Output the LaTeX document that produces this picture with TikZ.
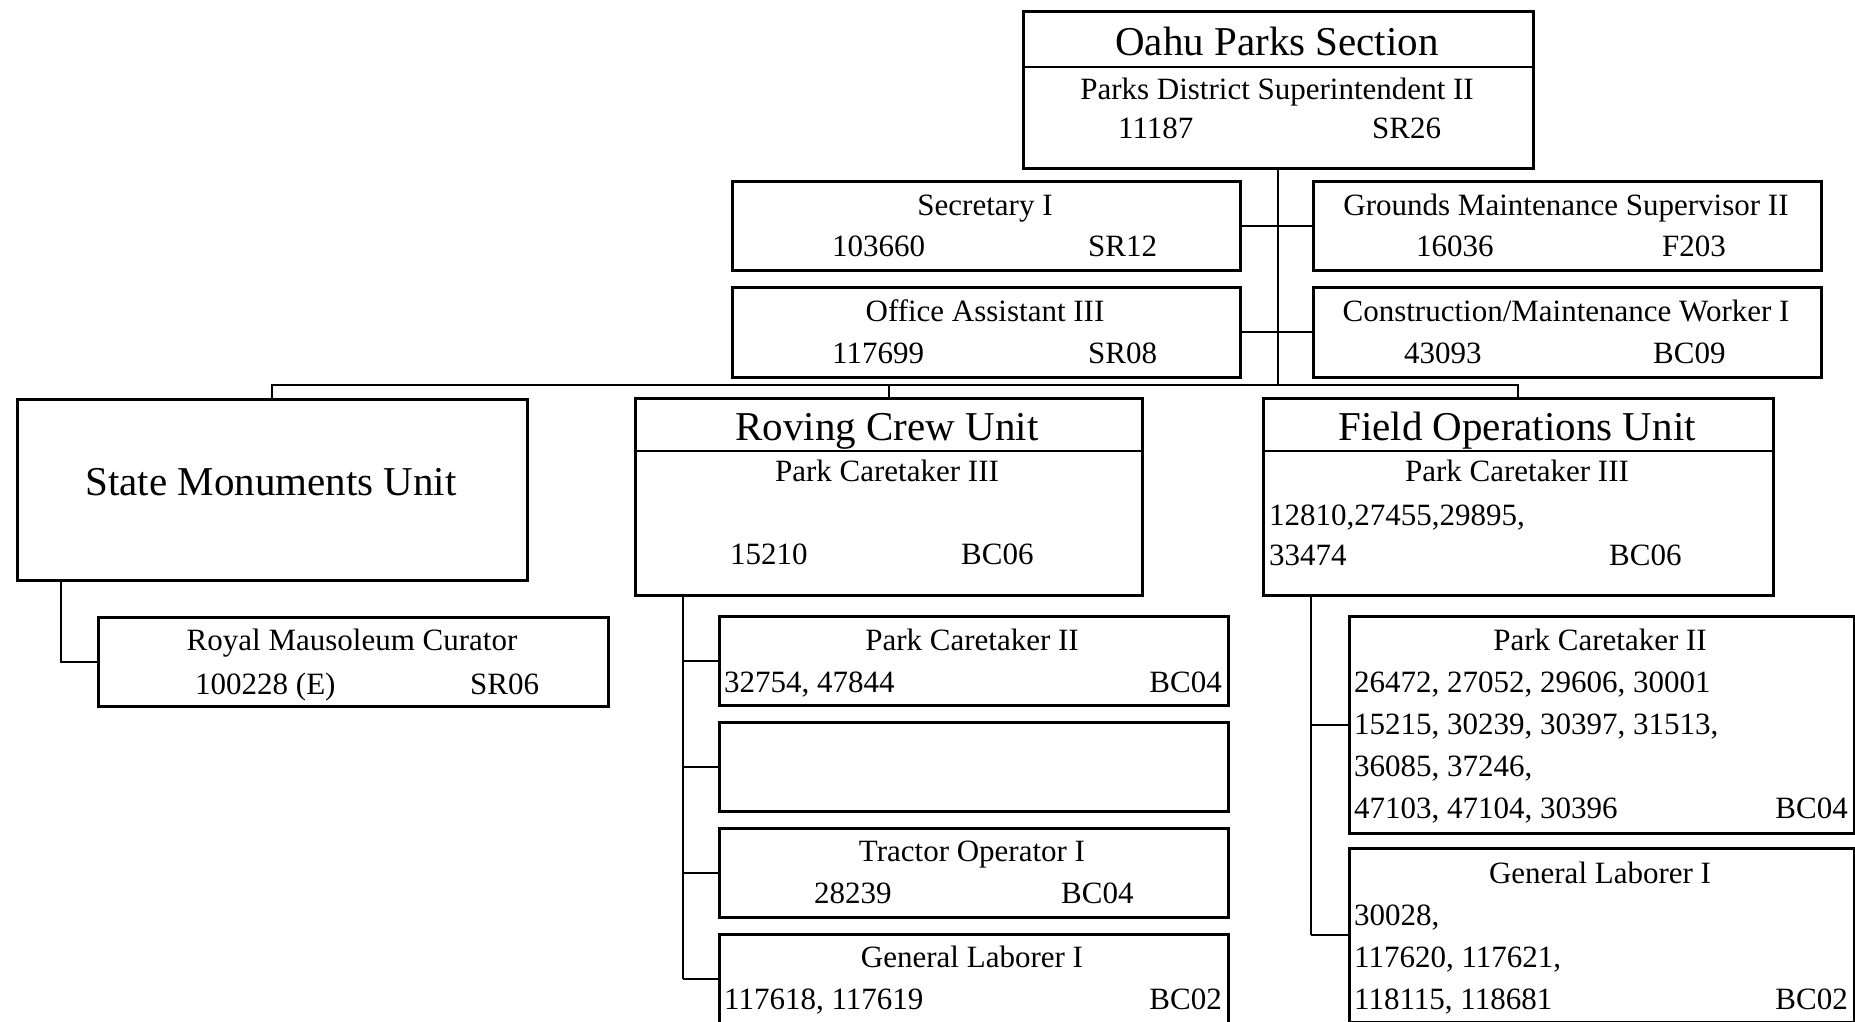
\documentclass[tikz,border=0pt]{standalone}
\usepackage{fontspec}
\setmainfont{Liberation Serif}
\usetikzlibrary{calc}

\tikzset{
  unitbox/.style={draw,line width=2.5pt,inner sep=0pt,anchor=north west,minimum width=508pt,minimum height=89pt},
  divline/.style={line width=1.3pt},
  conn/.style={line width=2.2pt},
  lbl/.style={inner sep=0pt,font=\fontsize{31}{38}\selectfont},
  ttl/.style={inner sep=0pt,font=\fontsize{41}{48}\selectfont},
}

\begin{document}
\begin{tikzpicture}[x=1pt,y=-1pt]
\useasboundingbox (0,0) rectangle (1855,1021);
% section head
\node[unitbox,minimum width=510pt,minimum height=157pt] (sect) at (1022,10) {};
\draw[divline] ([yshift=-57pt]sect.north west) -- ([yshift=-57pt]sect.north east);
\node[ttl,anchor=base] (sectT) at (1277,55) {Oahu Parks Section};
\node[lbl,anchor=base] (sectP) at (1277,99) {Parks District Superintendent II};
\node[lbl,anchor=base west] (sectN) at (1118,138) {11187};
\node[lbl,anchor=base west] (sectS) at (1372,138) {SR26};
% staff boxes
\node[unitbox] (sec) at (731,180) {};
\node[lbl,anchor=base] (secP) at (985,215) {Secretary I};
\node[lbl,anchor=base west] (secN) at (832,256) {103660};
\node[lbl,anchor=base west] (secS) at (1088,256) {SR12};
\node[unitbox,minimum height=90pt] (off) at (731,286) {};
\node[lbl,anchor=base] (offP) at (985,321) {Office Assistant III};
\node[lbl,anchor=base west] (offN) at (832,363) {117699};
\node[lbl,anchor=base west] (offS) at (1088,363) {SR08};
\node[unitbox] (grd) at (1312,180) {};
\node[lbl,anchor=base] (grdP) at (1566,215) {Grounds Maintenance Supervisor II};
\node[lbl,anchor=base west] (grdN) at (1416,256) {16036};
\node[lbl,anchor=base west] (grdS) at (1662,256) {F203};
\node[unitbox,minimum height=90pt] (con) at (1312,286) {};
\node[lbl,anchor=base] (conP) at (1566,321) {Construction/Maintenance Worker I};
\node[lbl,anchor=base west] (conN) at (1404,363) {43093};
\node[lbl,anchor=base west] (conS) at (1653,363) {BC09};
% units
\node[unitbox,minimum width=510pt,minimum height=181pt] (state) at (16,398) {};
\node[ttl,anchor=base] (stateT) at (271,495) {State Monuments Unit};
\node[unitbox,minimum width=510pt] (roy) at (97,616) {};
\node[lbl,anchor=base] (royP) at (352,650) {Royal Mausoleum Curator};
\node[lbl,anchor=base west] (royN) at (195,694) {100228 (E)};
\node[lbl,anchor=base west] (royS) at (470,694) {SR06};
\node[unitbox,minimum width=507pt,minimum height=197pt] (rov) at (634,397) {};
\draw[divline] ([yshift=-54pt]rov.north west) -- ([yshift=-54pt]rov.north east);
\node[ttl,anchor=base] (rovT) at (887,440) {Roving Crew Unit};
\node[lbl,anchor=base] (rovP) at (887,481) {Park Caretaker III};
\node[lbl,anchor=base west] (rovN) at (730,564) {15210};
\node[lbl,anchor=base west] (rovS) at (961,564) {BC06};
\node[unitbox,minimum width=510pt,minimum height=197pt] (fld) at (1262,397) {};
\draw[divline] ([yshift=-54pt]fld.north west) -- ([yshift=-54pt]fld.north east);
\node[ttl,anchor=base] (fldT) at (1517,440) {Field Operations Unit};
\node[lbl,anchor=base] (fldP) at (1517,481) {Park Caretaker III};
\node[lbl,anchor=base west] (fldN) at (1269,525) {12810,27455,29895,};
\node[lbl,anchor=base west] (fldM) at (1269,565) {33474};
\node[lbl,anchor=base west] (fldS) at (1609,565) {BC06};
% roving crew positions
\node[unitbox,minimum width=509pt] (rpc) at (718,615) {};
\node[lbl,anchor=base] (rpcP) at (972,650) {Park Caretaker II};
\node[lbl,anchor=base west] (rpcN) at (724,692) {32754, 47844};
\node[lbl,anchor=base east] (rpcS) at (1222,692) {BC04};
\node[unitbox,minimum width=509pt] (rnone) at (718,721) {};
\node[unitbox,minimum width=509pt] (rtrac) at (718,827) {};
\node[lbl,anchor=base] (rtracP) at (972,861) {Tractor Operator I};
\node[lbl,anchor=base west] (rtracN) at (814,903) {28239};
\node[lbl,anchor=base west] (rtracS) at (1061,903) {BC04};
\node[unitbox,minimum width=509pt] (rgl) at (718,933) {};
\node[lbl,anchor=base] (rglP) at (972,967) {General Laborer I};
\node[lbl,anchor=base west] (rglN) at (724,1009) {117618, 117619};
\node[lbl,anchor=base east] (rglS) at (1222,1009) {BC02};
% field operations positions
\node[unitbox,minimum width=505pt,minimum height=217pt] (fpc) at (1348,615) {};
\node[lbl,anchor=base] (fpcP) at (1600,650) {Park Caretaker II};
\node[lbl,anchor=base west] (fpcA) at (1354,692) {26472, 27052, 29606, 30001};
\node[lbl,anchor=base west] (fpcB) at (1354,734) {15215, 30239, 30397, 31513,};
\node[lbl,anchor=base west] (fpcC) at (1354,776) {36085, 37246,};
\node[lbl,anchor=base west] (fpcD) at (1354,818) {47103, 47104, 30396};
\node[lbl,anchor=base east] (fpcS) at (1848,818) {BC04};
\node[unitbox,minimum width=505pt,minimum height=174pt] (fgl) at (1348,847) {};
\node[lbl,anchor=base] (fglP) at (1600,883) {General Laborer I};
\node[lbl,anchor=base west] (fglA) at (1354,925) {30028,};
\node[lbl,anchor=base west] (fglB) at (1354,967) {117620, 117621,};
\node[lbl,anchor=base west] (fglC) at (1354,1009) {118115, 118681};
\node[lbl,anchor=base east] (fglS) at (1848,1009) {BC02};
% connectors
\coordinate (bus) at (1277,385);
\coordinate (stDrop) at (61,579);
\coordinate (rvDrop) at (683,594);
\coordinate (fdDrop) at (1311,594);
\draw[conn] (sect.south) -- (sect.south |- bus);
\draw[conn] (sec.east) -- (grd.west);
\draw[conn] (off.east) -- (con.west);
\draw[conn] (state.north) -- (state.north |- bus) -- (fld.north |- bus) -- (fld.north);
\draw[conn] (rov.north) -- (rov.north |- bus);
\draw[conn] (stDrop) |- (roy.west);
\draw[conn] (rvDrop) -- (rvDrop |- rgl.west);
\foreach \c in {rpc,rnone,rtrac,rgl}
  \draw[conn] (rvDrop |- \c.west) -- (\c.west);
\draw[conn] (fdDrop) -- (fdDrop |- fgl.west);
\foreach \c in {fpc,fgl}
  \draw[conn] (fdDrop |- \c.west) -- (\c.west);
\end{tikzpicture}
\end{document}
